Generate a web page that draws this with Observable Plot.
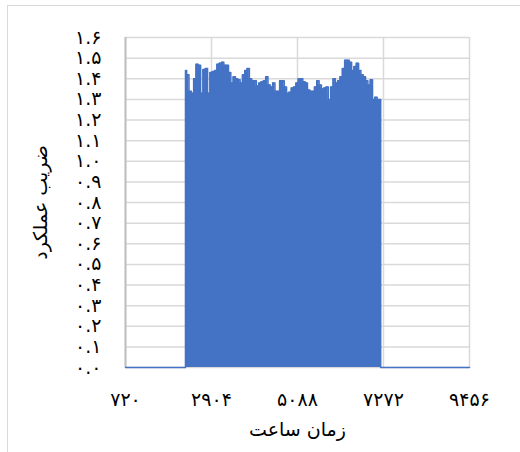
<!DOCTYPE html>
<html><head><meta charset="utf-8">
<script src="https://cdn.jsdelivr.net/npm/d3@7"></script>
<script src="https://cdn.jsdelivr.net/npm/@observablehq/plot@0.6"></script>
<style>
body{margin:0;background:#fff;}
#wrap{position:relative;width:520px;height:452px;overflow:hidden;}
#frame{position:absolute;left:7px;top:5px;width:530px;height:470px;border:1.5px solid #d9d9d9;box-sizing:border-box;pointer-events:none;}
</style></head><body><div id="wrap"><div id="chart"></div><div id="frame"></div></div>
<script>
const xTicks = [720, 2904, 5088, 7272, 9456];
const xTickLabels = ["۷۲۰", "۲۹۰۴", "۵۰۸۸", "۷۲۷۲", "۹۴۵۶"];
const yTicks = [0, 0.1, 0.2, 0.3, 0.4, 0.5, 0.6, 0.7, 0.8, 0.9, 1.0, 1.1, 1.2, 1.3, 1.4, 1.5, 1.6];
const yTickLabels = ["۰.۰","۰.۱","۰.۲","۰.۳","۰.۴","۰.۵","۰.۶","۰.۷","۰.۸","۰.۹","۱.۰","۱.۱","۱.۲","۱.۳","۱.۴","۱.۵","۱.۶"];
const xTitle = "زمان ساعت";
const yTitle = "ضریب عملکرد";
const firstHour = 720, lastHour = 9456;
const startHour = 2244, stepHours = 59;
const values = [
  1.44, 1.42, 1.34, 1.33, 1.40, 1.47, 1.465, 1.33, 1.445, 1.45,
  1.33, 1.43, 1.435, 1.44, 1.47, 1.475, 1.48, 1.465, 1.465, 1.43,
  1.38, 1.41, 1.40, 1.395, 1.38, 1.42, 1.44, 1.45, 1.40, 1.39,
  1.39, 1.365, 1.38, 1.385, 1.39, 1.41, 1.37, 1.36, 1.38, 1.34,
  1.34, 1.39, 1.39, 1.36, 1.33, 1.335, 1.355, 1.36, 1.38, 1.40,
  1.40, 1.385, 1.38, 1.345, 1.34, 1.34, 1.36, 1.39, 1.37, 1.35,
  1.355, 1.36, 1.30, 1.36, 1.40, 1.38, 1.39, 1.41, 1.45, 1.49,
  1.49, 1.48, 1.44, 1.46, 1.475, 1.44, 1.42, 1.41, 1.39, 1.37,
  1.395, 1.30, 1.31, 1.30, 1.30
];
const endHour = startHour + (values.length - 1) * stepHours;
const data = [
  {h: firstHour, v: 0}, {h: startHour - 1, v: 0},
  ...values.map((v, i) => ({h: startHour + i * stepHours, v})),
  {h: endHour + 1, v: 0}, {h: lastHour, v: 0}
];
const blue = "#4472c4";
const grid = "#d9d9d9";
const chart = Plot.plot({
  width: 520, height: 452,
  marginLeft: 125, marginRight: 51, marginTop: 37, marginBottom: 85,
  style: {fontFamily: "DejaVu Sans", fontSize: "18px", color: "#000", background: "#fff"},
  x: {domain: [firstHour, lastHour]},
  y: {domain: [0, 1.6]},
  marks: [
    Plot.gridY(yTicks, {stroke: grid, strokeOpacity: 1, strokeWidth: 1.5}),
    Plot.gridX(xTicks, {stroke: grid, strokeOpacity: 1, strokeWidth: 1.5}),
    Plot.ruleX([firstHour], {stroke: "#bfbfbf", strokeWidth: 2}),
    Plot.areaY(data, {x: "h", y: "v", fill: blue, curve: "step"}),
    Plot.lineY(data, {x: "h", y: "v", stroke: blue, strokeWidth: 1.5, curve: "step"}),
    Plot.axisY(yTicks, {tickSize: 0, tickPadding: 24, fontSize: 19,
      tickFormat: d => yTickLabels[Math.round(d * 10)],
      label: yTitle, labelAnchor: "center", labelArrow: "none", labelOffset: 92}),
    Plot.axisX(xTicks, {tickSize: 0, tickPadding: 25, fontSize: 19,
      tickFormat: d => xTickLabels[xTicks.indexOf(d)],
      label: xTitle, labelAnchor: "center", labelArrow: "none", labelOffset: 68})
  ]
});
document.getElementById("chart").appendChild(chart);
</script></body></html>
